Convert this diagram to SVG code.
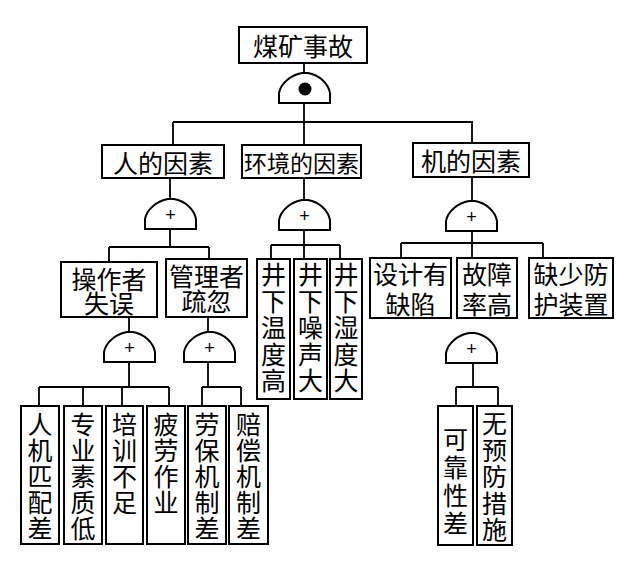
<svg xmlns="http://www.w3.org/2000/svg" xmlns:xlink="http://www.w3.org/1999/xlink" width="640" height="574" viewBox="0 0 640 574">
<style>
.box{fill:#fff;stroke:#000;stroke-width:2}
.ln{stroke:#000;stroke-width:1.8;fill:none}
.gate{fill:#fff;stroke:#000;stroke-width:2}
.t{font-family:"Noto Sans CJK SC","Noto Sans CJK JP",sans-serif;font-size:25px;text-anchor:middle;dominant-baseline:central;fill:#000}
.p{font-family:"Liberation Sans",sans-serif;font-size:18px;text-anchor:middle;dominant-baseline:central;fill:#000}
</style>
<defs>
<path id="g" d="M0,30 V20 C2,10 12,2 23,0 H29 C40,2 49,10 51,20 V30 Z"/>
</defs>
<rect width="640" height="574" fill="#fff"/>
<g id="connectors">
<path class="ln" d="M304,63 V73 M304,103 V122 M173,122 H473 M173,122 V145 M304,122 V145 M472,122 V143"/>
<path class="ln" d="M170,178 V199 M170,229 V247 M109,247 H209 M109,247 V262 M209,247 V259"/>
<path class="ln" d="M304,178 V200 M304,230 V259 M271,245 H340 M271,245 V259 M340,245 V259"/>
<path class="ln" d="M472,177 V201 M472,231 V258 M401,243 H543 M401,243 V258 M543,243 V258"/>
<path class="ln" d="M129,317 V333 M129,362 V387 M39,387 H169 M39,387 V406 M83,387 V406 M122,387 V406 M169,387 V406"/>
<path class="ln" d="M208,317 V333 M208,362 V387 M202,387 H241 M202,387 V406 M241,387 V406"/>
<path class="ln" d="M473,363 V387 M456,387 H498 M456,387 V406 M498,387 V406"/>
</g>
<g id="top">
<rect class="box" x="239" y="27" width="128" height="36"/>
<text class="t" x="303" y="45">煤矿事故</text>
</g>
<g id="gate0">
<use href="#g" class="gate" x="279" y="73"/>
<circle cx="305" cy="89" r="6.5" fill="#000"/>
</g>
<g id="n-ren">
<rect class="box" x="102" y="145" width="122" height="33"/>
<text class="t" x="163" y="161.5">人的因素</text>
</g>
<g id="n-env">
<rect class="box" x="242" y="145" width="119" height="33"/>
<text class="t" x="301.5" y="161.5" style="font-size:23px">环境的因素</text>
</g>
<g id="n-ji">
<rect class="box" x="413" y="143" width="116" height="34"/>
<text class="t" x="471" y="160">机的因素</text>
</g>
<g id="gate-ren"><use href="#g" class="gate" x="145" y="199"/><text class="p" x="170.5" y="215">+</text></g>
<g id="gate-env"><use href="#g" class="gate" x="279" y="200"/><text class="p" x="304.5" y="216">+</text></g>
<g id="gate-ji"><use href="#g" class="gate" x="446" y="201"/><text class="p" x="471.5" y="217">+</text></g>
<g id="n-czz">
<rect class="box" x="61" y="262" width="96" height="55"/>
<text class="t" x="109" y="278">操作者</text>
<text class="t" x="109" y="302">失误</text>
</g>
<g id="n-glz">
<rect class="box" x="166" y="259" width="81" height="58"/>
<text class="t" x="206.5" y="275">管理者</text>
<text class="t" x="206.5" y="300">疏忽</text>
</g>
<g id="n-wd">
<rect class="box" x="257" y="259" width="33" height="140"/>
<text class="t"><tspan x="273.5" y="273">井</tspan><tspan x="273.5" dy="26.5">下</tspan><tspan x="273.5" dy="26.5">温</tspan><tspan x="273.5" dy="26.5">度</tspan><tspan x="273.5" dy="26.5">高</tspan></text>
</g>
<g id="n-zs">
<rect class="box" x="294" y="259" width="33" height="140"/>
<text class="t"><tspan x="310.5" y="273">井</tspan><tspan x="310.5" dy="26.5">下</tspan><tspan x="310.5" dy="26.5">噪</tspan><tspan x="310.5" dy="26.5">声</tspan><tspan x="310.5" dy="26.5">大</tspan></text>
</g>
<g id="n-sd">
<rect class="box" x="330" y="259" width="32" height="140"/>
<text class="t"><tspan x="346" y="273">井</tspan><tspan x="346" dy="26.5">下</tspan><tspan x="346" dy="26.5">湿</tspan><tspan x="346" dy="26.5">度</tspan><tspan x="346" dy="26.5">大</tspan></text>
</g>
<g id="n-sj">
<rect class="box" x="370" y="258" width="81" height="60"/>
<text class="t" x="410.5" y="273">设计有</text>
<text class="t" x="410.5" y="303">缺陷</text>
</g>
<g id="n-gz">
<rect class="box" x="457" y="258" width="60" height="60"/>
<text class="t" x="487" y="273">故障</text>
<text class="t" x="487" y="303">率高</text>
</g>
<g id="n-qs">
<rect class="box" x="529" y="258" width="84" height="60"/>
<text class="t" x="571" y="273">缺少防</text>
<text class="t" x="571" y="303">护装置</text>
</g>
<g id="gate-czz"><use href="#g" class="gate" x="104" y="332"/><text class="p" x="129.5" y="348">+</text></g>
<g id="gate-glz"><use href="#g" class="gate" x="184" y="332"/><text class="p" x="209.5" y="348">+</text></g>
<g id="gate-gz"><use href="#g" class="gate" x="446" y="333"/><text class="p" x="471.5" y="349">+</text></g>
<g id="n-rjpp">
<rect class="box" x="21" y="406" width="38" height="138"/>
<text class="t"><tspan x="40" y="423">人</tspan><tspan x="40" dy="26">机</tspan><tspan x="40" dy="26">匹</tspan><tspan x="40" dy="26">配</tspan><tspan x="40" dy="26">差</tspan></text>
</g>
<g id="n-zysz">
<rect class="box" x="64" y="406" width="38" height="138"/>
<text class="t"><tspan x="83" y="423">专</tspan><tspan x="83" dy="26">业</tspan><tspan x="83" dy="26">素</tspan><tspan x="83" dy="26">质</tspan><tspan x="83" dy="26">低</tspan></text>
</g>
<g id="n-px">
<rect class="box" x="106" y="406" width="37" height="138"/>
<text class="t"><tspan x="124.5" y="423">培</tspan><tspan x="124.5" dy="26">训</tspan><tspan x="124.5" dy="26">不</tspan><tspan x="124.5" dy="26">足</tspan></text>
</g>
<g id="n-pl">
<rect class="box" x="147" y="406" width="38" height="138"/>
<text class="t"><tspan x="166" y="423">疲</tspan><tspan x="166" dy="26">劳</tspan><tspan x="166" dy="26">作</tspan><tspan x="166" dy="26">业</tspan></text>
</g>
<g id="n-lb">
<rect class="box" x="188" y="406" width="38" height="138"/>
<text class="t"><tspan x="207" y="423">劳</tspan><tspan x="207" dy="26">保</tspan><tspan x="207" dy="26">机</tspan><tspan x="207" dy="26">制</tspan><tspan x="207" dy="26">差</tspan></text>
</g>
<g id="n-pc">
<rect class="box" x="229" y="406" width="39" height="138"/>
<text class="t"><tspan x="248.5" y="423">赔</tspan><tspan x="248.5" dy="26">偿</tspan><tspan x="248.5" dy="26">机</tspan><tspan x="248.5" dy="26">制</tspan><tspan x="248.5" dy="26">差</tspan></text>
</g>
<g id="n-kk">
<rect class="box" x="438" y="406" width="35" height="139"/>
<text class="t"><tspan x="455.5" y="438">可</tspan><tspan x="455.5" dy="28">靠</tspan><tspan x="455.5" dy="28">性</tspan><tspan x="455.5" dy="28">差</tspan></text>
</g>
<g id="n-wyf">
<rect class="box" x="477" y="406" width="35" height="139"/>
<text class="t"><tspan x="494.5" y="422">无</tspan><tspan x="494.5" dy="26.5">预</tspan><tspan x="494.5" dy="26.5">防</tspan><tspan x="494.5" dy="26.5">措</tspan><tspan x="494.5" dy="26.5">施</tspan></text>
</g>
</svg>
